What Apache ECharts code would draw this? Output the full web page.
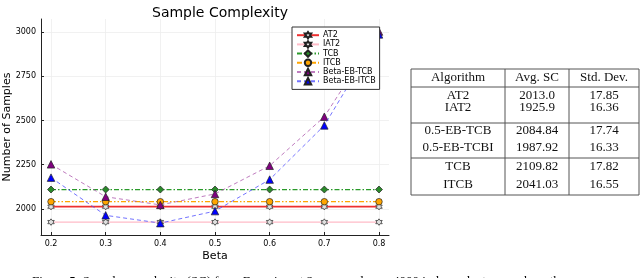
<!DOCTYPE html>
<html><head><meta charset="utf-8">
<script src="https://cdn.jsdelivr.net/npm/echarts@6/dist/echarts.min.js"></script>
<style>html,body{margin:0;padding:0;background:#fff}#c{width:640px;height:278px}</style>
</head><body><div id="c"></div>
<script>
const betas = [0.2, 0.3, 0.4, 0.5, 0.6, 0.7, 0.8];
const xTicks = [0.2, 0.3, 0.4, 0.5, 0.6, 0.7, 0.8];
const yTicks = [2000, 2250, 2500, 2750, 3000];
const at2 = [2013.0, 2013.0, 2013.0, 2013.0, 2013.0, 2013.0, 2013.0];
const iat2 = [1925.9, 1925.9, 1925.9, 1925.9, 1925.9, 1925.9, 1925.9];
const tcb = [2109.82, 2109.82, 2109.82, 2109.82, 2109.82, 2109.82, 2109.82];
const itcb = [2041.03, 2041.03, 2041.03, 2041.03, 2041.03, 2041.03, 2041.03];
const betaTcb = [2252, 2069, 2023, 2085, 2244, 2521, 3002];
const betaItcb = [2177, 1964, 1920, 1988, 2166, 2472, 2986];
const at2Err = [17.85, 17.85, 17.85, 17.85, 17.85, 17.85, 17.85];
const iat2Err = [16.36, 16.36, 16.36, 16.36, 16.36, 16.36, 16.36];
const tcbErr = [17.82, 17.82, 17.82, 17.82, 17.82, 17.82, 17.82];
const itcbErr = [16.55, 16.55, 16.55, 16.55, 16.55, 16.55, 16.55];
const betaTcbErr = [36, 36, 36, 36, 36, 36, 36];
const betaItcbErr = [34, 34, 34, 34, 34, 34, 34];

const tableHeader = ['Algorithm', 'Avg. SC', 'Std. Dev.'];
const tableRows = [
  ['AT2', '2013.0', '17.85'],
  ['IAT2', '1925.9', '16.36'],
  ['0.5-EB-TCB', '2084.84', '17.74'],
  ['0.5-EB-TCBI', '1987.92', '16.33'],
  ['TCB', '2109.82', '17.82'],
  ['ITCB', '2041.03', '16.55']
];
const caption = 'Figure 5: Sample complexity (SC) from Experiment 2 averaged over 4000 independent runs where the';

const star6 = 'path://M0,-10L2.887,-5L8.66,-5L5.774,0L8.66,5L2.887,5L0,10L-2.887,5L-8.66,5L-5.774,0L-8.66,-5L-2.887,-5Z';

const defs = [
  {name: 'AT2', data: at2, err: at2Err, color: '#ee3030', band: 'rgba(238,48,48,0.10)', type: 'solid', width: 1.6, symbol: star6, sfill: '#e0e0e0', ssize: 6.5},
  {name: 'IAT2', data: iat2, err: iat2Err, color: '#ffbcc8', band: 'rgba(255,188,200,0.14)', type: 'solid', width: 1.1, symbol: star6, sfill: '#e0e0e0', ssize: 6.5},
  {name: 'TCB', data: tcb, err: tcbErr, color: '#2a9a2a', band: 'rgba(42,154,42,0.08)', type: [5, 2, 1.5, 2], width: 1.2, symbol: 'diamond', sfill: '#2a8a2a', ssize: 7},
  {name: 'ITCB', data: itcb, err: itcbErr, color: '#ffa500', band: 'rgba(255,165,0,0.09)', type: [5, 2, 1.5, 2, 1.5, 2], width: 1.2, symbol: 'circle', sfill: '#ffa500', ssize: 6.5},
  {name: 'Beta-EB-TCB', data: betaTcb, err: betaTcbErr, color: 'rgba(170,80,170,0.75)', band: 'rgba(160,70,160,0.14)', type: [4, 3], width: 1, symbol: 'triangle', sfill: '#800080', ssize: 7.5},
  {name: 'Beta-EB-ITCB', data: betaItcb, err: betaItcbErr, color: 'rgba(80,80,255,0.8)', band: 'rgba(80,80,255,0.12)', type: [4, 3], width: 1, symbol: 'triangle', sfill: '#0000ff', ssize: 7.5}
];

const series = [];
defs.forEach((d, k) => {
  series.push({
    name: d.name + '_lo', type: 'line', stack: 's' + k, silent: true,
    data: betas.map((b, i) => [b, d.data[i] - d.err[i]]),
    symbol: 'none', lineStyle: {opacity: 0}, z: 1
  });
  series.push({
    name: d.name + '_band', type: 'line', stack: 's' + k, silent: true,
    data: betas.map((b, i) => [b, 2 * d.err[i]]),
    symbol: 'none', lineStyle: {opacity: 0}, areaStyle: {color: d.band, opacity: 1}, z: 1
  });
  series.push({
    name: d.name, type: 'line', color: d.color,
    data: betas.map((b, i) => [b, d.data[i]]),
    symbol: d.symbol, symbolSize: d.ssize, showAllSymbol: true,
    itemStyle: {color: d.sfill, borderColor: '#222', borderWidth: 0.7},
    lineStyle: {color: d.color, width: d.width, type: d.type},
    z: 3 + k
  });
});

const serif = 'Liberation Serif';
const graphics = [];
const tx0 = 411, tx1 = 639, tc1 = 505, tc2 = 569;
const ty0 = 69, tyH = 87, ty1 = 123, ty2 = 158, ty3 = 195;
const lineStyle = {stroke: '#555', lineWidth: 1};
[[tx0, ty0, tx1, ty0], [tx0, tyH, tx1, tyH], [tx0, ty1, tx1, ty1], [tx0, ty2, tx1, ty2], [tx0, ty3, tx1, ty3],
 [tx0, ty0, tx0, ty3], [tc1, ty0, tc1, ty3], [tc2, ty0, tc2, ty3], [tx1, ty0, tx1, ty3]].forEach(l => {
  graphics.push({type: 'line', shape: {x1: l[0], y1: l[1], x2: l[2], y2: l[3]}, style: lineStyle, silent: true});
});
const colX = [458, 537, 604];
const rowY = [95.5, 107.5, 131, 148, 167, 185];
tableHeader.forEach((t, j) => {
  graphics.push({type: 'text', x: colX[j], y: 78, style: {text: t, fill: '#111', font: '13px "' + serif + '"', align: 'center', verticalAlign: 'middle'}});
});
tableRows.forEach((r, i) => {
  r.forEach((t, j) => {
    graphics.push({type: 'text', x: colX[j], y: rowY[i], style: {text: t, fill: '#111', font: '13px "' + serif + '"', align: 'center', verticalAlign: 'middle'}});
  });
});
graphics.push({type: 'text', x: 32, y: 275, style: {text: caption, fill: '#000', font: '13px "' + serif + '"', align: 'left', verticalAlign: 'top'}});

const chart = echarts.init(document.getElementById('c'), null, {renderer: 'canvas'});
chart.setOption({
  animation: false,
  backgroundColor: '#fff',
  title: {text: 'Sample Complexity', left: 215, top: 1, textAlign: 'center',
    textStyle: {fontFamily: 'DejaVu Sans', fontSize: 14, fontWeight: 'normal', color: '#000'}},
  grid: {left: 41, right: 251, top: 19, bottom: 43, containLabel: false, outerBoundsMode: 'none'},
  legend: {
    data: defs.map(d => d.name), orient: 'vertical', left: 292, top: 27,
    padding: [4, 4, 4, 4], itemWidth: 22, itemHeight: 8, itemGap: 0.8,
    backgroundColor: '#fff', borderColor: '#333', borderWidth: 1, borderRadius: 0,
    textStyle: {fontFamily: 'DejaVu Sans', fontSize: 8, color: '#000', padding: [0, 0, 0, -1]},
    z: 20
  },
  xAxis: {
    type: 'value', min: 0.1817, max: 0.8183,
    name: 'Beta', nameLocation: 'middle', nameGap: 16, nameMoveOverlap: false,
    nameTextStyle: {fontFamily: 'DejaVu Sans', fontSize: 11, color: '#000', verticalAlign: 'top'},
    axisLine: {show: true, onZero: false, lineStyle: {color: '#222', width: 1}},
    axisTick: {show: true, inside: true, length: 3, customValues: xTicks, lineStyle: {color: '#222'}},
    axisLabel: {customValues: xTicks, margin: 5, fontFamily: 'DejaVu Sans', fontSize: 8, color: '#000',
      formatter: v => v.toFixed(1)},
    splitLine: {show: true, lineStyle: {color: '#ededed', width: 0.8}}
  },
  yAxis: {
    type: 'value', min: 1853, max: 3073,
    name: 'Number of Samples', nameLocation: 'middle', nameGap: 28, nameMoveOverlap: false,
    nameTextStyle: {fontFamily: 'DejaVu Sans', fontSize: 11, color: '#000'},
    axisLine: {show: true, onZero: false, lineStyle: {color: '#222', width: 1}},
    axisTick: {show: true, inside: true, length: 3, customValues: yTicks, lineStyle: {color: '#222'}},
    axisLabel: {customValues: yTicks, margin: 5, fontFamily: 'DejaVu Sans', fontSize: 8, color: '#000',
      formatter: v => String(Math.round(v))},
    splitLine: {show: true, lineStyle: {color: '#ededed', width: 0.8}}
  },
  series: series,
  graphic: graphics
});
</script></body></html>
